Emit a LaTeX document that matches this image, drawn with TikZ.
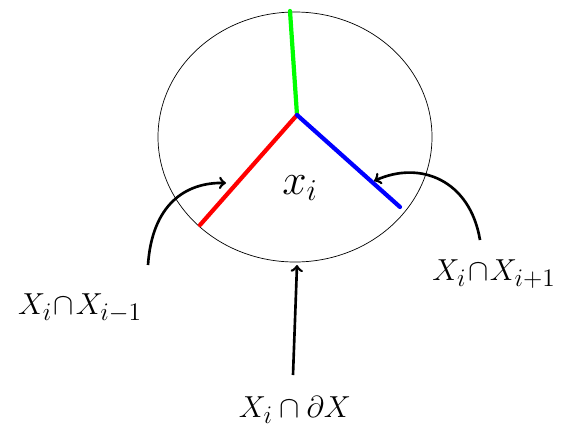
\documentclass[tikz,border=0pt]{standalone}
\begin{document}
\begin{tikzpicture}[x=0.02cm, y=-0.02cm, every node/.style={inner sep=1pt}, caption/.style={font=\fontsize{19}{23}\selectfont}, cut/.style={line width=2.4pt, line cap=round}, pointer/.style={->, >=to, line width=1.5pt}]
		\useasboundingbox (0,0) rectangle (567,443);
		\draw[thin] (295,137) ellipse [x radius=137, y radius=125];
		\coordinate (mid) at (297,115);
		\coordinate (top) at (290,11);
		\coordinate (left) at (200,225);
		\coordinate (right) at (400,207);
		\draw[cut, green] (mid) -- (top);
		\draw[cut, red] (mid) -- (left);
		\draw[cut, blue] (mid) -- (right);
		\node[font=\fontsize{24}{28}\selectfont] (xi) at (300,188) {$x_i$};
		\node[caption] (lcap) at (80,308) {$X_i\!\cap\! X_{i-1}$};
		\node[caption] (rcap) at (494,274) {$X_i\!\cap\! X_{i+1}$};
		\node[caption] (bcap) at (295,410) {$X_i\cap \partial X$};
		\coordinate (lfrom) at (148,265);
		\coordinate (lto) at (226,183);
		\coordinate (rfrom) at (480,240);
		\coordinate (rto) at (374,181);
		\coordinate (bfrom) at (293,375);
		\coordinate (bto) at (297,265);
		\draw[pointer] (lfrom) .. controls (152,205) and (185,182) .. (lto);
		\draw[pointer] (rfrom) .. controls (470,180) and (420,160) .. (rto);
		\draw[pointer] (bfrom) -- (bto);
	\end{tikzpicture}
\end{document}
